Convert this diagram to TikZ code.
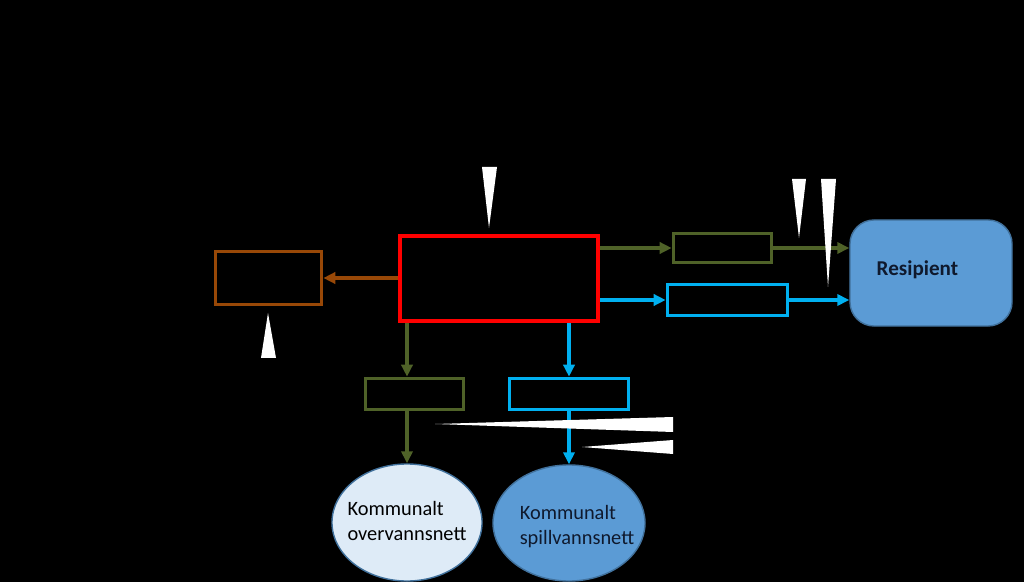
\documentclass[tikz,border=0pt]{standalone}
\usepackage{fontspec}
\setmainfont{Carlito}
\usetikzlibrary{arrows.meta,shapes.geometric,calc}

\definecolor{redline}{RGB}{255,0,0}
\definecolor{brownline}{HTML}{984807}
\definecolor{greenline}{HTML}{4F6228}
\definecolor{blueline}{HTML}{00B0F0}
\definecolor{resfill}{HTML}{5B9BD5}
\definecolor{resedge}{HTML}{41719C}
\definecolor{lightfill}{HTML}{DEEBF7}
\definecolor{navytext}{RGB}{15,25,45}

\begin{document}
\begin{tikzpicture}[x=0.025cm,y=-0.025cm,
  box/.style={draw, fill=black, line width=2.6pt, inner sep=0pt},
  flow/.style={line width=2.6pt, -{Triangle[length=0.3cm,width=0.28cm]}},
  txt/.style={font=\fontsize{14.5}{17.7}\selectfont, align=left}]

% Background
\useasboundingbox (0,0) rectangle (1024,582);
\fill[black] (0,0) rectangle (1024,582);

% Boxes
\node[box, draw=redline, line width=3.2pt, minimum width=4.95cm, minimum height=2.125cm] (tank) at (499,278.5) {};
\node[box, draw=brownline, minimum width=2.65cm, minimum height=1.325cm] (slam) at (268.5,278) {};
\node[box, draw=greenline, minimum width=2.45cm, minimum height=0.725cm] (ovtop) at (722.5,248) {};
\node[box, draw=blueline, minimum width=3cm, minimum height=0.775cm] (sptop) at (727.5,300) {};
\node[box, draw=greenline, minimum width=2.45cm, minimum height=0.775cm] (ovbot) at (414.5,394) {};
\node[box, draw=blueline, minimum width=2.975cm, minimum height=0.775cm] (spbot) at (569,394) {};

% Recipient and municipal nets
\node[draw=resedge, fill=resfill, line width=1pt, rounded corners=0.6cm, minimum width=4.05cm, minimum height=2.65cm,
  label={[xshift=-0.34cm, yshift=0.075cm, font=\bfseries\fontsize{15}{18}\selectfont, text=navytext]center:Resipient}] (res) at (931,273) {};
\node[ellipse, draw=resedge, fill=lightfill, line width=1pt, inner sep=0pt, minimum width=3.75cm, minimum height=2.925cm,
  label={[yshift=0.03cm, txt]center:Kommunalt\\overvannsnett}] (ov) at (407,522.5) {};
\node[ellipse, draw=resedge, fill=resfill, line width=1pt, inner sep=0pt, minimum width=3.8cm, minimum height=2.9cm,
  label={[xshift=0.2cm, yshift=-0.08cm, text=navytext, txt]center:Kommunalt\\spillvannsnett}] (sp) at (569,523) {};

% Flows out of the tank
\draw[flow, brownline] (tank.west |- slam.east) -- (slam.east);
\draw[flow, greenline] (tank.east |- ovtop.west) -- (ovtop.west);
\draw[flow, blueline] (tank.east |- sptop.west) -- (sptop.west);
\draw[flow, greenline] (ov.north |- tank.south) -- (ov.north |- ovbot.north);
\draw[flow, blueline] (sp.north |- tank.south) -- (spbot.north);

% Flows to recipient and nets
\draw[flow, greenline] (ovtop.east) -- (res.west |- ovtop.east);
\draw[flow, blueline] (sptop.east) -- (res.west |- sptop.east);
\draw[flow, greenline] (ov.north |- ovbot.south) -- (ov.north);
\draw[flow, blueline] (spbot.south) -- (sp.north);

% Callout pointers
\fill[white] (482,167) -- (497,167) -- (489,228) -- cycle;
\fill[white] (261,358) -- (276,358) -- (268,313) -- cycle;
\fill[white] (792,179) -- (806,179) -- (799,238) -- cycle;
\fill[white] (821,179) -- (836,179) -- (828,287) -- cycle;
\fill[white] (673,417) -- (673,432) -- (435,424) -- cycle;
\fill[white] (673,440) -- (673,454) -- (582,447) -- cycle;

\end{tikzpicture}
\end{document}
